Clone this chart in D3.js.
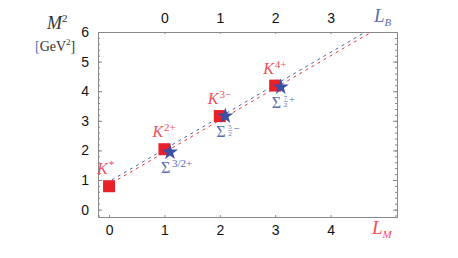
<!DOCTYPE html>
<html lang="en">
<head>
<meta charset="utf-8">
<title>Regge trajectories</title>
<script src="https://d3js.org/d3.v7.min.js"></script>
<style>
  body { margin: 0; background: #fff; }
  .tick text { font-family: "Liberation Sans", Arial, sans-serif; font-size: 14px; fill: #111; }
  .serif { font-family: "Liberation Serif", "DejaVu Serif", serif; }
</style>
</head>
<body>
<svg id="chart" width="458" height="258"></svg>
<script>
// mesons: orbital L_M and M^2
var mesonL = [0, 1, 2, 3];
var mesonM2 = [0.79, 2.04, 3.16, 4.19];
var mesonSup = ["*", "2+", "3\u2212", "4+"];

// baryons: orbital L_B and M^2
var baryonL = [0.1, 1.1, 2.1];
var baryonM2 = [1.94, 3.16, 4.14];
var baryonJ = [["3/2"], ["5", "2"], ["7", "2"]];
var baryonP = ["+", "\u2212", "+"];

// dashed trajectories (end points)
var mesonLineL = [0.05, 4.74], mesonLineM2 = [0.9, 6];
var baryonLineL = [-0.95, 3.63], baryonLineM2 = [1.0, 6];

var bottomTicks = [0, 1, 2, 3, 4];
var topTicks = [0, 1, 2, 3];
var leftTicks = [0, 1, 2, 3, 4, 5, 6];
var minorTicks = d3.range(-0.2, 6.01, 0.2);

var red = "#e8202a", redText = "#f0505c";
var blue = "#3a4fa2", blueText = "#5a6db6";
var frame = "#888";

var svg = d3.select("#chart");
var L = 98, R = 397, T = 32, B = 217;

var xM = d3.scaleLinear().domain([-0.2, 5.2]).range([L, R]);
var xB = d3.scaleLinear().domain([-1.2, 4.2]).range([L, R]);
var y = d3.scaleLinear().domain([-0.25, 6]).range([B, T]);
var fmt = d3.format("d");

// axes
function styleAxis(g) {
  g.select(".domain").attr("stroke", frame);
  g.selectAll(".tick line").attr("stroke", frame);
}
svg.append("g").attr("transform", "translate(0," + B + ")")
  .call(d3.axisBottom(xM).tickValues(bottomTicks).tickFormat(fmt).tickSize(-2).tickPadding(8).tickSizeOuter(0))
  .call(styleAxis);
svg.append("g").attr("transform", "translate(0," + T + ")")
  .call(d3.axisTop(xB).tickValues(topTicks).tickFormat(fmt).tickSize(-2).tickPadding(9).tickSizeOuter(0))
  .call(styleAxis);
svg.append("g").attr("transform", "translate(" + L + ",0)")
  .call(d3.axisLeft(y).tickValues(leftTicks).tickFormat(fmt).tickSize(-4).tickPadding(9).tickSizeOuter(0))
  .call(styleAxis);
svg.append("g").attr("transform", "translate(" + L + ",0)")
  .call(d3.axisLeft(y).tickValues(minorTicks).tickSize(-2).tickFormat("").tickSizeOuter(0))
  .call(styleAxis);
svg.append("g").attr("transform", "translate(" + R + ",0)")
  .call(d3.axisRight(y).tickValues(leftTicks).tickSize(-4).tickFormat("").tickSizeOuter(0))
  .call(styleAxis);
svg.append("g").attr("transform", "translate(" + R + ",0)")
  .call(d3.axisRight(y).tickValues(minorTicks).tickSize(-2).tickFormat("").tickSizeOuter(0))
  .call(styleAxis);

// trajectories
var line = d3.line();
svg.append("path")
  .attr("d", line(mesonLineL.map((l, i) => [xM(l), y(mesonLineM2[i])])))
  .attr("stroke", red).attr("stroke-width", 0.9).attr("fill", "none")
  .attr("stroke-dasharray", "3,4");
svg.append("path")
  .attr("d", line(baryonLineL.map((l, i) => [xB(l), y(baryonLineM2[i])])))
  .attr("stroke", blue).attr("stroke-width", 0.9).attr("fill", "none")
  .attr("stroke-dasharray", "3,4");

// meson squares
svg.selectAll("path.meson").data(mesonL).enter().append("path")
  .attr("class", "meson")
  .attr("d", d3.symbol(d3.symbolSquare, 144))
  .attr("transform", (d, i) => "translate(" + xM(d) + "," + y(mesonM2[i]) + ")")
  .attr("fill", red);

// baryon stars
svg.selectAll("path.baryon").data(baryonL).enter().append("path")
  .attr("class", "baryon")
  .attr("d", d3.symbol(d3.symbolStar, 80))
  .attr("transform", (d, i) => "translate(" + xB(d) + "," + y(baryonM2[i]) + ")")
  .attr("fill", blue);

// meson labels
mesonL.forEach(function(d, i) {
  var t = svg.append("text").attr("class", "serif")
    .attr("x", xM(d) - 12).attr("y", y(mesonM2[i]) - 12)
    .attr("fill", redText).attr("font-size", 16);
  t.append("tspan").attr("font-style", "italic").text("K");
  t.append("tspan").attr("font-size", 11).attr("dy", -6).attr("dx", 1).text(mesonSup[i]);
});

// baryon labels
baryonL.forEach(function(d, i) {
  var g = svg.append("g").attr("class", "serif")
    .attr("transform", "translate(" + (xB(d) - 9) + "," + (y(baryonM2[i]) + 21) + ")")
    .attr("fill", blueText);
  g.append("text").attr("font-size", 16).text("\u03A3");
  var j = baryonJ[i];
  if (j.length === 1) {
    g.append("text").attr("x", 11).attr("y", -6).attr("font-size", 11).text(j[0] + baryonP[i]);
  } else {
    g.append("text").attr("x", 12).attr("y", -8).attr("font-size", 7).text(j[0]);
    g.append("line").attr("x1", 12).attr("x2", 16).attr("y1", -6.5).attr("y2", -6.5)
      .attr("stroke", blueText).attr("stroke-width", 0.6);
    g.append("text").attr("x", 12).attr("y", -1).attr("font-size", 7).text(j[1]);
    g.append("text").attr("x", 17).attr("y", -5).attr("font-size", 11).text(baryonP[i]);
  }
});

// axis titles
var m = svg.append("text").attr("class", "serif").attr("x", 47).attr("y", 29)
  .attr("fill", "#333").attr("font-size", 18);
m.append("tspan").attr("font-style", "italic").text("M");
m.append("tspan").attr("font-size", 11).attr("dy", -7).text("2");

var u = svg.append("text").attr("class", "serif").attr("x", 35).attr("y", 51)
  .attr("fill", "#333").attr("font-size", 14);
u.append("tspan").attr("fill", blueText).text("[");
u.append("tspan").text("GeV");
u.append("tspan").attr("font-size", 9).attr("dy", -6).text("2");
u.append("tspan").attr("dy", 6).attr("fill", "#333").text("]");

var lb = svg.append("text").attr("class", "serif").attr("x", 374).attr("y", 22)
  .attr("fill", blueText).attr("font-size", 19).attr("font-style", "italic");
lb.append("tspan").text("L");
lb.append("tspan").attr("font-size", 11).attr("dy", 4).text("B");

var lm = svg.append("text").attr("class", "serif").attr("x", 372).attr("y", 234)
  .attr("fill", redText).attr("font-size", 19).attr("font-style", "italic");
lm.append("tspan").text("L");
lm.append("tspan").attr("font-size", 11).attr("dy", 4).text("M");
</script>
</body>
</html>
